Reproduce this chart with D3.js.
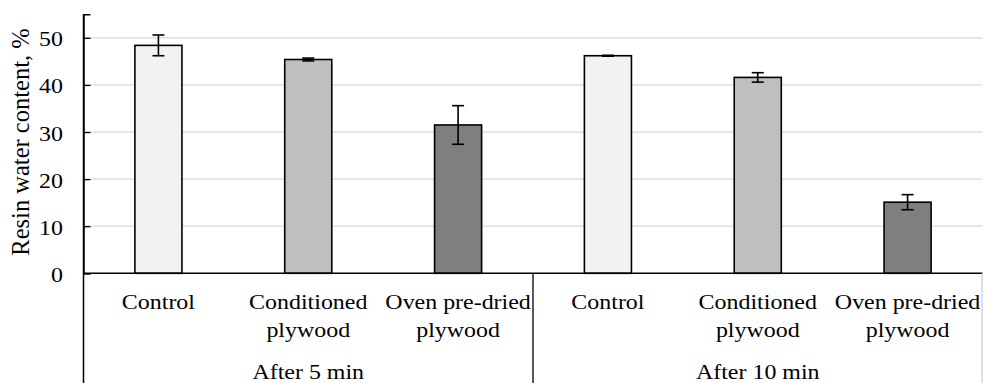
<!DOCTYPE html>
<html><head><meta charset="utf-8">
<script src="https://cdn.jsdelivr.net/npm/d3@7"></script>
<style>body{margin:0;background:#fff}svg{display:block}</style>
</head><body>
<svg id="c" width="983" height="383"></svg>
<script>
const categories = ["Control", "Conditioned\nplywood", "Oven pre-dried\nplywood", "Control", "Conditioned\nplywood", "Oven pre-dried\nplywood"];
const groups = ["After 5 min", "After 10 min"];
const values = [48.4, 45.4, 31.5, 46.2, 41.6, 15.1];
const errors = [2.2, 0.3, 4.1, 0.1, 1.0, 1.6];
const fills = ["#f2f2f2", "#bfbfbf", "#7f7f7f", "#f2f2f2", "#bfbfbf", "#7f7f7f"];
const yTicks = [0, 10, 20, 30, 40, 50];
const yTitle = "Resin water content, %";

const svg = d3.select("#c");
const left = 83.5, right = 982.5, y0 = 273.3, yTop = 14.3;
const font = "'Liberation Serif','Times New Roman',serif";
const sx = 1.14;

const y = d3.scaleLinear().domain([0, 55]).range([y0, yTop]);
const pi = 0.686;
const x = d3.scaleBand().domain(d3.range(categories.length)).range([left, right])
  .paddingInner(pi).paddingOuter(pi / 2);
const step = x.step();

// gridlines
svg.append("g").selectAll("line").data(yTicks.filter(d => d > 0)).join("line")
  .attr("x1", left).attr("x2", right)
  .attr("y1", d => y(d)).attr("y2", d => y(d))
  .attr("stroke", "#d9d9d9").attr("stroke-width", 1.3);

// y axis ticks (inward)
const ay = svg.append("g").attr("transform", `translate(${left},0)`)
  .call(d3.axisRight(y).tickValues(yTicks).tickSize(7).tickFormat(""));
ay.select(".domain").attr("stroke", "#000").attr("stroke-width", 1.5);
ay.selectAll(".tick line").attr("stroke", "#000").attr("stroke-width", 1.3);

// vertical axis line to bottom
svg.append("line").attr("x1", left).attr("x2", left).attr("y1", yTop).attr("y2", 383)
  .attr("stroke", "#000").attr("stroke-width", 1.5);

// tick labels
svg.append("g").selectAll("text").data(yTicks).join("text")
  .attr("transform", d => `translate(63,${y(d) + 8.5}) scale(${sx},1)`)
  .attr("text-anchor", "end").attr("font-family", font).attr("font-size", 21)
  .attr("fill", "#000").text(d => d);

// bars
svg.append("g").selectAll("rect").data(values).join("rect")
  .attr("x", (d, i) => x(i)).attr("width", x.bandwidth())
  .attr("y", d => y(d)).attr("height", d => y0 - y(d))
  .attr("fill", (d, i) => fills[i]).attr("stroke", "#000").attr("stroke-width", 1.6);

// error bars
const eb = svg.append("g").attr("stroke", "#000").attr("stroke-width", 1.6);
values.forEach((v, i) => {
  const cx = x(i) + x.bandwidth() / 2;
  const hi = y(v + errors[i]), lo = y(v - errors[i]);
  eb.append("line").attr("x1", cx).attr("x2", cx).attr("y1", hi).attr("y2", lo);
  eb.append("line").attr("x1", cx - 6).attr("x2", cx + 6).attr("y1", hi).attr("y2", hi);
  eb.append("line").attr("x1", cx - 6).attr("x2", cx + 6).attr("y1", lo).attr("y2", lo);
});

// baseline
svg.append("line").attr("x1", left).attr("x2", right).attr("y1", y0).attr("y2", y0)
  .attr("stroke", "#000").attr("stroke-width", 1.5);

// group separator and right edge
svg.append("line").attr("x1", left + 3 * step).attr("x2", left + 3 * step).attr("y1", y0).attr("y2", 383)
  .attr("stroke", "#000").attr("stroke-width", 1.3);
svg.append("line").attr("x1", right - 0.5).attr("x2", right - 0.5).attr("y1", y0).attr("y2", 383)
  .attr("stroke", "#bfbfbf").attr("stroke-width", 1);

// category labels
categories.forEach((c, i) => {
  const cx = x(i) + x.bandwidth() / 2;
  c.split("\n").forEach((line, k) => {
    svg.append("text").attr("transform", `translate(${cx},${309.3 + k * 27.2}) scale(${sx},1)`)
      .attr("text-anchor", "middle").attr("font-family", font).attr("font-size", 21)
      .attr("fill", "#000").text(line);
  });
});

// group labels
groups.forEach((g, j) => {
  const cx = left + (j * 3 + 1.5) * step;
  svg.append("text").attr("transform", `translate(${cx},378.5) scale(${sx},1)`)
    .attr("text-anchor", "middle").attr("font-family", font).attr("font-size", 21)
    .attr("fill", "#000").text(g);
});

// y title
svg.append("text").attr("transform", `translate(29,142) rotate(-90)`)
  .attr("text-anchor", "middle").attr("font-family", font).attr("font-size", 24.5)
  .attr("fill", "#000").text(yTitle);
</script>
</body></html>
